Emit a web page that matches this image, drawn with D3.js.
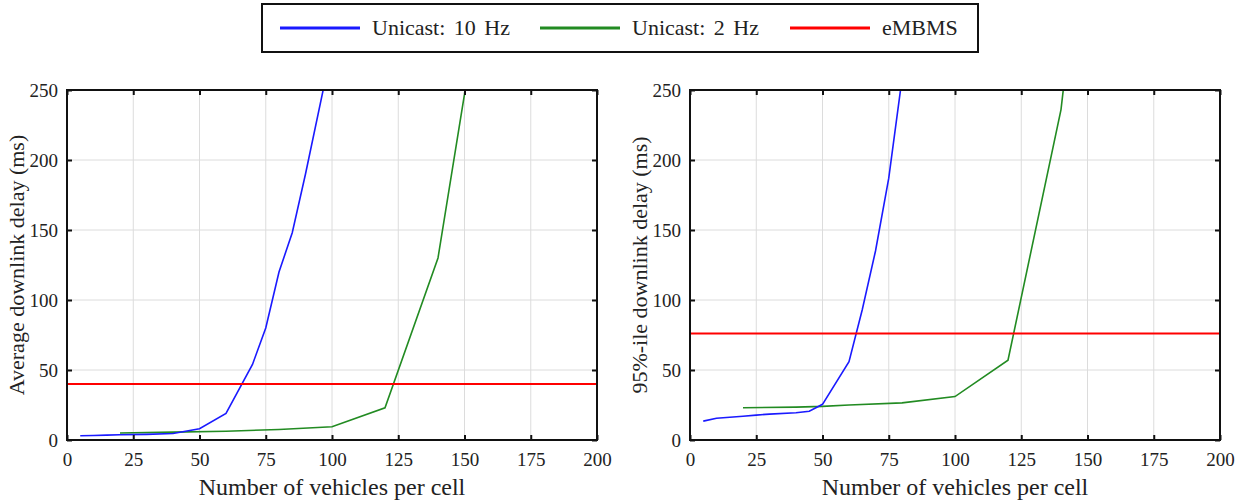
<!DOCTYPE html>
<html><head><meta charset="utf-8">
<script src="https://cdn.jsdelivr.net/npm/d3@7/dist/d3.min.js"></script>
<style>body{margin:0;background:#fff}svg{display:block}svg text{font-family:"Liberation Serif","Times New Roman",Times,serif !important;fill:#222}</style>
</head><body><svg id="c" width="1249" height="502"></svg>
<script>
// ---- data ----
const seriesNames = ["Unicast: 10 Hz", "Unicast: 2 Hz", "eMBMS"];
const seriesColors = ["#1a1aff", "#228b22", "#ff0000"];
const xTicks = [0, 25, 50, 75, 100, 125, 150, 175, 200];
const yTicks = [0, 50, 100, 150, 200, 250];
const xLabel = "Number of vehicles per cell";
const yLabels = ["Average downlink delay (ms)", "95%-ile downlink delay (ms)"];

const avgBlueX = [5, 10, 15, 20, 30, 40, 50, 60, 70, 75, 80, 85, 90, 100];
const avgBlueY = [3, 3.2, 3.5, 3.8, 4, 4.6, 8, 19, 54, 80, 120, 148, 190, 280];
const avgGreenX = [20, 40, 60, 80, 100, 120, 140, 150, 160];
const avgGreenY = [5, 5.6, 6.3, 7.5, 9.5, 23, 130, 247, 420];
const avgEmbms = 40;

const p95BlueX = [5, 10, 20, 25, 30, 40, 45, 50, 60, 65, 70, 75, 80];
const p95BlueY = [13.5, 15.5, 17, 17.8, 18.5, 19.5, 20.5, 25.5, 56, 93, 135, 187, 258];
const p95GreenX = [20, 40, 50, 60, 80, 100, 120, 140, 150];
const p95GreenY = [23, 23.5, 24, 25, 26.5, 31, 57, 236, 400];
const p95Embms = 76;

// ---- drawing ----
const svg = d3.select("#c");
const FONT = '"Liberation Serif","Times New Roman",Times,serif';
const panels = [
  {left: 67, right: 597, blue: [avgBlueX, avgBlueY], green: [avgGreenX, avgGreenY], embms: avgEmbms, ylab: yLabels[0], ylx: 16},
  {left: 690, right: 1220, blue: [p95BlueX, p95BlueY], green: [p95GreenX, p95GreenY], embms: p95Embms, ylab: yLabels[1], ylx: 639}
];
const plotTop = 90, plotBottom = 440;

panels.forEach((p, i) => {
  const x = d3.scaleLinear().domain([0, 200]).range([p.left, p.right]);
  const y = d3.scaleLinear().domain([0, 250]).range([plotBottom, plotTop]);
  const g = svg.append("g");
  const cid = "clip" + i;
  svg.append("clipPath").attr("id", cid).append("rect")
    .attr("x", p.left).attr("y", plotTop).attr("width", p.right - p.left).attr("height", plotBottom - plotTop);

  // grid
  g.selectAll(".gx").data(xTicks.slice(1, -1)).join("line")
    .attr("x1", d => x(d)).attr("x2", d => x(d)).attr("y1", plotTop).attr("y2", plotBottom)
    .attr("stroke", "#dcdcdc").attr("stroke-width", 1);
  g.selectAll(".gy").data(yTicks.slice(1, -1)).join("line")
    .attr("y1", d => y(d)).attr("y2", d => y(d)).attr("x1", p.left).attr("x2", p.right)
    .attr("stroke", "#dcdcdc").attr("stroke-width", 1);

  // series
  const line = d3.line().x(d => x(d[0])).y(d => y(d[1]));
  const lg = g.append("g").attr("clip-path", `url(#${cid})`);
  lg.append("path").datum(d3.zip(p.green[0], p.green[1])).attr("d", line)
    .attr("fill", "none").attr("stroke", seriesColors[1]).attr("stroke-width", 1.6);
  lg.append("path").datum(d3.zip(p.blue[0], p.blue[1])).attr("d", line)
    .attr("fill", "none").attr("stroke", seriesColors[0]).attr("stroke-width", 1.6);
  lg.append("line").attr("x1", x(0)).attr("x2", x(200)).attr("y1", y(p.embms)).attr("y2", y(p.embms))
    .attr("stroke", seriesColors[2]).attr("stroke-width", 2);

  // axes (inward ticks on all sides)
  const axB = d3.axisBottom(x).tickValues(xTicks).tickSizeInner(-5).tickSizeOuter(0).tickPadding(13);
  const axT = d3.axisTop(x).tickValues(xTicks).tickSizeInner(-5).tickSizeOuter(0).tickFormat("");
  const axL = d3.axisLeft(y).tickValues(yTicks).tickSizeInner(-5).tickSizeOuter(0).tickPadding(9);
  const axR = d3.axisRight(y).tickValues(yTicks).tickSizeInner(-5).tickSizeOuter(0).tickFormat("");
  [[axB, `translate(0,${plotBottom})`], [axT, `translate(0,${plotTop})`], [axL, `translate(${p.left},0)`], [axR, `translate(${p.right},0)`]]
    .forEach(([ax, tr]) => {
      const a = g.append("g").attr("transform", tr).call(ax).attr("font-family", FONT);
      a.select(".domain").remove();
      a.selectAll(".tick line").attr("stroke", "#111").attr("stroke-width", 2);
      a.selectAll(".tick text").attr("font-size", 19).attr("fill", "#222");
    });
  g.append("rect").attr("x", p.left).attr("y", plotTop).attr("width", p.right - p.left).attr("height", plotBottom - plotTop)
    .attr("fill", "none").attr("stroke", "#111").attr("stroke-width", 2);

  // titles
  g.append("text").attr("x", (p.left + p.right) / 2).attr("y", 495).attr("text-anchor", "middle")
    .attr("font-family", FONT).attr("font-size", 24).text(xLabel);
  g.append("text").attr("transform", `translate(${p.ylx},${(plotTop + plotBottom) / 2}) rotate(-90)`)
    .attr("text-anchor", "middle").attr("dominant-baseline", "central")
    .attr("font-family", FONT).attr("font-size", 22).text(p.ylab);
});

// legend
const leg = svg.append("g");
leg.append("rect").attr("x", 262).attr("y", 4).attr("width", 716).attr("height", 48)
  .attr("fill", "#fff").attr("stroke", "#111").attr("stroke-width", 2);
const legX = [280, 540, 790];
seriesNames.forEach((n, i) => {
  leg.append("line").attr("x1", legX[i]).attr("x2", legX[i] + 80).attr("y1", 28).attr("y2", 28)
    .attr("stroke", seriesColors[i]).attr("stroke-width", 3);
  leg.append("text").attr("x", legX[i] + 92).attr("y", 35).attr("font-family", FONT)
    .attr("font-size", 22).attr("word-spacing", 3).text(n);
});
</script></body></html>
